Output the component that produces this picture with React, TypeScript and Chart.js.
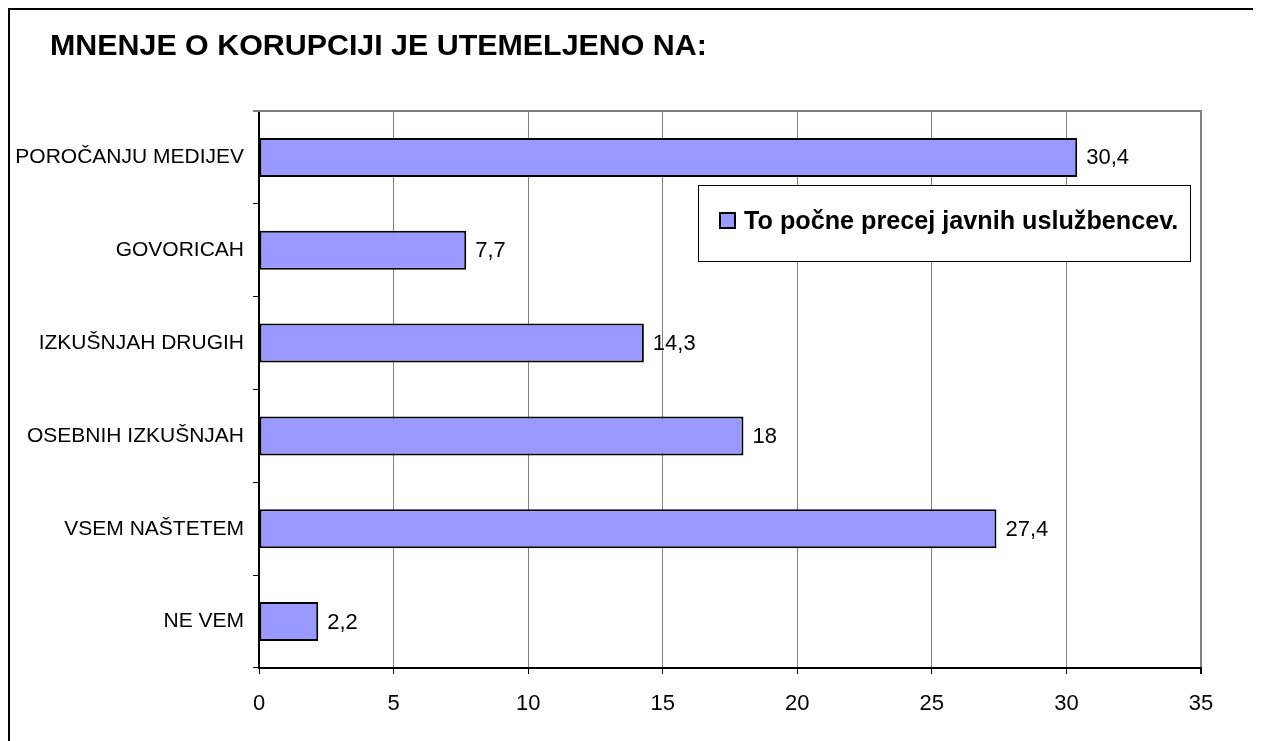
import React, { useEffect, useRef } from 'react';
import { Chart, registerables } from 'chart.js';

Chart.register(...registerables);

const TITLE = 'MNENJE O KORUPCIJI JE UTEMELJENO NA:';
const SERIES_LABEL = 'To počne precej javnih uslužbencev.';
const categories = [
  'POROČANJU MEDIJEV',
  'GOVORICAH',
  'IZKUŠNJAH DRUGIH',
  'OSEBNIH IZKUŠNJAH',
  'VSEM NAŠTETEM',
  'NE VEM',
];
const values = [30.4, 7.7, 14.3, 18, 27.4, 2.2];
const xMin = 0;
const xMax = 35;
const xStep = 5;

const FONT = "'Liberation Sans', Arial, sans-serif";
const BAR_COLOR = '#9999FF';

const fmt = (v: number) => String(v).replace('.', ',');

const decor = {
  id: 'decor',
  beforeDraw(chart: any) {
    const { ctx, width, height } = chart;
    ctx.save();
    ctx.fillStyle = '#fff';
    ctx.fillRect(0, 0, width, height);
    ctx.restore();
  },
  beforeDatasetsDraw(chart: any) {
    const { ctx, chartArea } = chart;
    ctx.save();
    ctx.strokeStyle = '#808080';
    ctx.lineWidth = 2;
    ctx.beginPath();
    ctx.moveTo(chartArea.left - 6, chartArea.top);
    ctx.lineTo(chartArea.right + 1, chartArea.top);
    ctx.stroke();
    ctx.restore();
  },
  afterDatasetsDraw(chart: any) {
    const { ctx } = chart;
    const meta = chart.getDatasetMeta(0);
    ctx.save();
    ctx.fillStyle = '#000';
    ctx.font = `22px ${FONT}`;
    ctx.textAlign = 'left';
    ctx.textBaseline = 'middle';
    meta.data.forEach((el: any, i: number) => {
      ctx.fillText(fmt(chart.data.datasets[0].data[i]), el.x + 9, el.y + 1);
    });
    ctx.restore();
  },
  afterDraw(chart: any) {
    const { ctx } = chart;
    ctx.save();
    // title
    ctx.fillStyle = '#000';
    ctx.font = `bold 30.4px ${FONT}`;
    ctx.textAlign = 'left';
    ctx.textBaseline = 'alphabetic';
    ctx.fillText(TITLE, 40, 45);
    // legend box
    ctx.fillStyle = '#fff';
    ctx.fillRect(688, 175, 492, 76);
    ctx.strokeStyle = '#000';
    ctx.lineWidth = 1;
    ctx.strokeRect(688.5, 175.5, 492, 76);
    ctx.fillStyle = BAR_COLOR;
    ctx.fillRect(709, 202, 17, 17);
    ctx.lineWidth = 2;
    ctx.strokeRect(710, 203, 15, 15);
    ctx.fillStyle = '#000';
    ctx.font = `bold 25.2px ${FONT}`;
    ctx.fillText(chart.data.datasets[0].label, 734, 219);
    ctx.restore();
  },
};

export default function App() {
  const ref = useRef<HTMLCanvasElement | null>(null);

  useEffect(() => {
    if (!ref.current) return;
    const chart = new Chart(ref.current, {
      type: 'bar',
      data: {
        labels: categories,
        datasets: [
          {
            label: SERIES_LABEL,
            data: values,
            backgroundColor: BAR_COLOR,
            borderColor: '#000',
            borderWidth: 2,
            borderSkipped: false,
            categoryPercentage: 1,
            barPercentage: 0.42,
          },
        ],
      },
      options: {
        indexAxis: 'y',
        responsive: false,
        animation: false,
        devicePixelRatio: 1,
        layout: { padding: { top: 101, right: 60, left: 0, bottom: 0 } },
        plugins: {
          legend: { display: false },
          title: { display: false },
          tooltip: { enabled: false },
        },
        scales: {
          x: {
            type: 'linear',
            min: xMin,
            max: xMax,
            ticks: {
              stepSize: xStep,
              color: '#000',
              font: { family: FONT, size: 22 },
              padding: 17,
              callback: (v: any) => fmt(v),
            },
            grid: {
              color: '#808080',
              lineWidth: (c: any) => (c.tick && c.tick.value === xMax ? 2 : 1),
              tickColor: '#000',
              tickLength: 6,
            },
            border: { color: '#000', width: 2 },
            afterFit: (s: any) => {
              s.height = 73;
            },
          },
          y: {
            ticks: {
              color: '#000',
              font: { family: FONT, size: 21 },
              padding: 9,
            },
            grid: {
              drawOnChartArea: false,
              offset: true,
              tickColor: '#000',
              tickLength: 6,
            },
            border: { color: '#000', width: 2 },
            afterFit: (s: any) => {
              s.width = 249;
            },
          },
        },
      },
      plugins: [decor],
    });
    return () => chart.destroy();
  }, []);

  return (
    <div
      style={{
        width: 1251,
        height: 731,
        borderLeft: '2px solid #000',
        borderTop: '2px solid #000',
        background: '#fff',
      }}
    >
      <canvas ref={ref} width={1251} height={731} style={{ display: 'block', width: 1251, height: 731 }} />
    </div>
  );
}
